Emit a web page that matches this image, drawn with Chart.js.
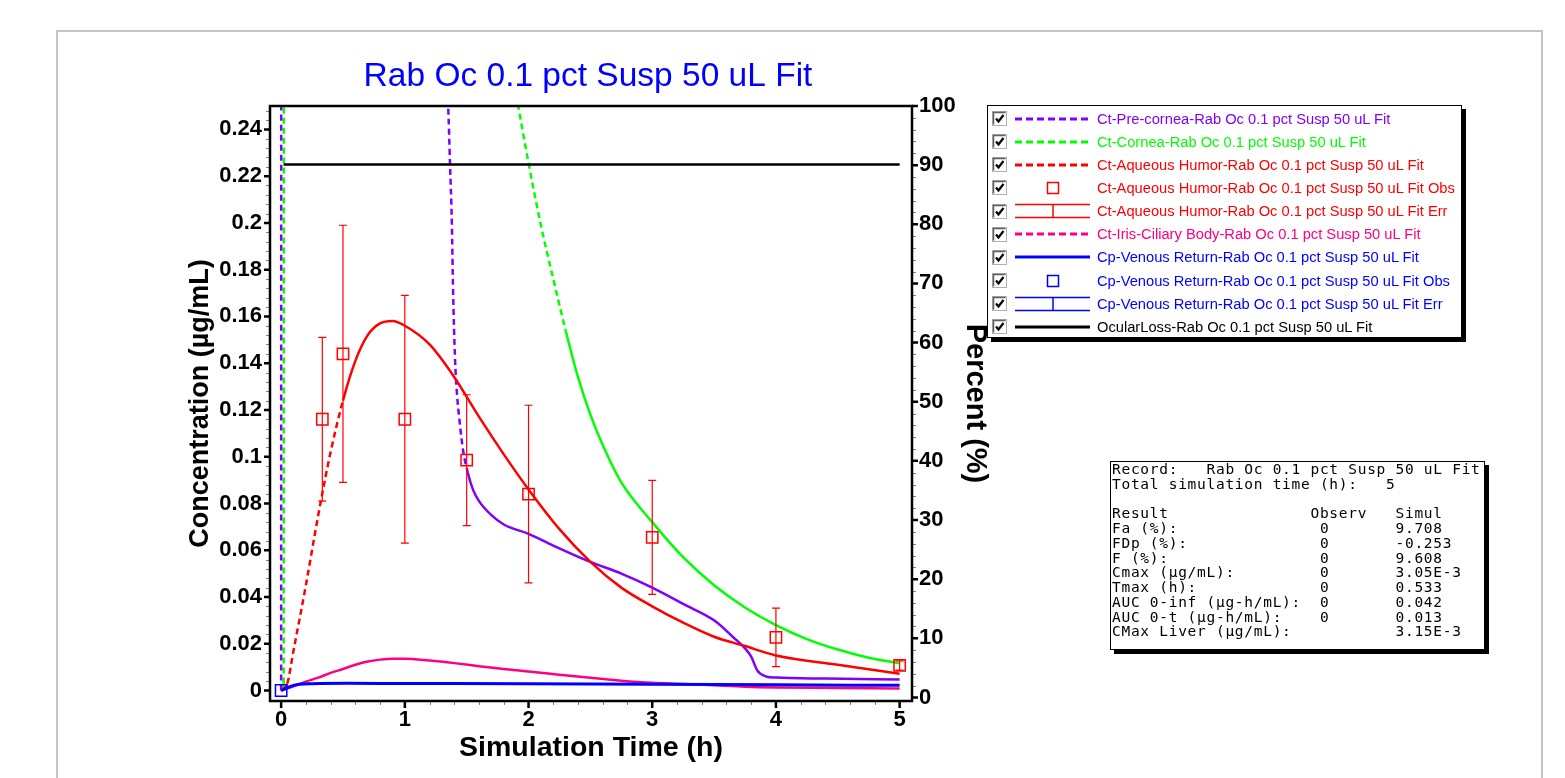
<!DOCTYPE html>
<html>
<head>
<meta charset="utf-8">
<title>Rab Oc 0.1 pct Susp 50 uL Fit</title>
<script src="https://cdn.jsdelivr.net/npm/chart.js@4.4.1/dist/chart.umd.min.js"></script>
<style>
    html, body { margin: 0; padding: 0; background: #fff; }
    #cadre {
        position: absolute; left: 56px; top: 30px; width: 1487px; height: 780px;
        border: 2px solid #c4c4c4; box-sizing: border-box;
    }
    #graphique { position: absolute; left: 0; top: 0; }
    #legende {
        position: absolute; left: 987px; top: 105px; width: 475px; height: 233px;
        border: 1px solid #000; background: #fff; box-shadow: 4px 4px 0 #000;
        box-sizing: border-box; padding-top: 1px;
        font: 14.7px "Liberation Sans", Arial, sans-serif;
    }
    .ligne { height: 23.15px; display: flex; align-items: center; white-space: nowrap; }
    .case { margin-left: 4px; flex: none; }
    .echantillon { margin-left: 8px; flex: none; }
    .texte { margin-left: 7px; }
    #resultats {
        position: absolute; left: 1110px; top: 461px; width: 375px; height: 189px;
        border: 1px solid #000; background: #fff; box-shadow: 4px 4px 0 #000;
        box-sizing: border-box; margin: 0; padding: 0 0 0 1px; overflow: hidden;
        font: 14.5px "DejaVu Sans Mono", monospace; letter-spacing: 0.72px;
        line-height: 14.75px; white-space: pre; color: #000;
    }
</style>
</head>
<body>
<div id="cadre"></div>
<canvas id="graphique" width="1565" height="778"></canvas>
<div id="legende"></div>
<pre id="resultats"></pre>
<script>
const titre = 'Rab Oc 0.1 pct Susp 50 uL Fit';

const xTicks    = [0, 1, 2, 3, 4, 5];
const concTicks = [0, 0.02, 0.04, 0.06, 0.08, 0.1, 0.12, 0.14, 0.16, 0.18, 0.2, 0.22, 0.24];
const pctTicks  = [0, 10, 20, 30, 40, 50, 60, 70, 80, 90, 100];

// Ct-Pre-cornea (ug/mL)
const preCorneaT = [0, 0.008, 0.5, 1.0, 1.3, 1.35, 1.365, 1.38, 1.39, 1.405, 1.42, 1.445, 1.47, 1.51, 1.55, 1.6, 1.7, 1.8, 2.0, 2.2, 2.5, 2.75, 3.0, 3.25, 3.5, 3.65, 3.75, 3.8, 3.85, 3.92, 4.0, 4.4, 5.0];
const preCorneaC = [0, 3.0, 1.2, 0.45, 0.28, 0.25, 0.2256, 0.2, 0.171, 0.143, 0.128, 0.114, 0.103, 0.093, 0.086, 0.081, 0.075, 0.071, 0.067, 0.062, 0.055, 0.05, 0.044, 0.037, 0.03, 0.023, 0.018, 0.0145, 0.0085, 0.006, 0.0055, 0.0051, 0.0047];

// Ct-Cornea
const corneaT = [0, 0.02, 0.025, 0.5, 1.0, 1.5, 1.9, 2.0, 2.1, 2.2, 2.3, 2.4, 2.5, 2.6, 2.75, 3.0, 3.25, 3.5, 3.75, 4.0, 4.25, 4.5, 4.75, 5.0];
const corneaC = [0, 0.003, 1.6, 0.95, 0.6, 0.38, 0.255, 0.2256, 0.199, 0.176, 0.154, 0.134, 0.118, 0.105, 0.089, 0.072, 0.057, 0.045, 0.0355, 0.028, 0.022, 0.0175, 0.014, 0.0116];

// Ct-Aqueous Humor
const aqueousT = [0, 0.05, 0.1, 0.2, 0.3, 0.4, 0.5, 0.6, 0.7, 0.8, 0.9, 1.0, 1.2, 1.4, 1.6, 1.8, 2.0, 2.25, 2.5, 2.75, 3.0, 3.25, 3.5, 3.75, 4.0, 4.5, 5.0];
const aqueousC = [0, 0.003, 0.017, 0.045, 0.075, 0.102, 0.124, 0.141, 0.152, 0.157, 0.158, 0.156, 0.148, 0.134, 0.117, 0.101, 0.086, 0.069, 0.055, 0.044, 0.036, 0.029, 0.023, 0.019, 0.015, 0.011, 0.0072];

// Ct-Aqueous Humor observe +/- erreur
const aqObsT   = [0.333, 0.5, 1, 1.5, 2, 3, 4, 5];
const aqObsC   = [0.116, 0.144, 0.116, 0.0985, 0.084, 0.0655, 0.0227, 0.0107];
const aqObsErr = [0.035, 0.055, 0.053, 0.028, 0.038, 0.0244, 0.0125, 0.002];

// Ct-Iris-Ciliary Body
const irisT = [0, 0.1, 0.2, 0.3, 0.4, 0.5, 0.6, 0.7, 0.8, 0.9, 1.0, 1.2, 1.4, 1.6, 1.8, 2.0, 2.25, 2.5, 2.75, 3.0, 3.25, 3.5, 3.75, 4.0, 4.5, 5.0];
const irisC = [0, 0.0018, 0.0038, 0.0055, 0.0075, 0.0092, 0.011, 0.0124, 0.0132, 0.0136, 0.0136, 0.0128, 0.0117, 0.0104, 0.0092, 0.0081, 0.0067, 0.0054, 0.0042, 0.0033, 0.0028, 0.0022, 0.0016, 0.0013, 0.0011, 0.0009];

// Cp-Venous Return
const venousT = [0, 0.05, 0.1, 0.15, 0.25, 0.533, 1.0, 2.0, 3.0, 4.0, 5.0];
const venousC = [0, 0.0012, 0.0022, 0.0027, 0.0029, 0.00305, 0.003, 0.0029, 0.0027, 0.0024, 0.0022];
const venObsT = [0];
const venObsC = [0];

// OcularLoss (%)
const ocularT   = [0.02, 1, 2, 3, 4, 5];
const ocularPct = [90.1, 90.1, 90.1, 90.1, 90.1, 90.1];

const resultats = [
    'Record:   Rab Oc 0.1 pct Susp 50 uL Fit',
    'Total simulation time (h):   5',
    '',
    'Result               Observ   Simul',
    'Fa (%):               0       9.708',
    'FDp (%):              0       -0.253',
    'F (%):                0       9.608',
    'Cmax (\u00b5g/mL):         0       3.05E-3',
    'Tmax (h):             0       0.533',
    'AUC 0-inf (\u00b5g-h/mL):  0       0.042',
    'AUC 0-t (\u00b5g-h/mL):    0       0.013',
    'CMax Liver (\u00b5g/mL):           3.15E-3'
];

const COL = {
    violet: '#8000ff', vert: '#00ff00', rouge: '#ff0000',
    rose: '#ff0080', bleu: '#0000ff', noir: '#000000'
};

const legendItems = [
    { label: 'Ct-Pre-cornea-Rab Oc 0.1 pct Susp 50 uL Fit',            color: COL.violet, kind: 'dash' },
    { label: 'Ct-Cornea-Rab Oc 0.1 pct Susp 50 uL Fit',                color: COL.vert,   kind: 'dash' },
    { label: 'Ct-Aqueous Humor-Rab Oc 0.1 pct Susp 50 uL Fit',         color: COL.rouge,  kind: 'dash' },
    { label: 'Ct-Aqueous Humor-Rab Oc 0.1 pct Susp 50 uL Fit Obs',     color: COL.rouge,  kind: 'obs' },
    { label: 'Ct-Aqueous Humor-Rab Oc 0.1 pct Susp 50 uL Fit Err',     color: COL.rouge,  kind: 'err' },
    { label: 'Ct-Iris-Ciliary Body-Rab Oc 0.1 pct Susp 50 uL Fit',     color: COL.rose,   kind: 'dash' },
    { label: 'Cp-Venous Return-Rab Oc 0.1 pct Susp 50 uL Fit',         color: COL.bleu,   kind: 'line' },
    { label: 'Cp-Venous Return-Rab Oc 0.1 pct Susp 50 uL Fit Obs',     color: COL.bleu,   kind: 'obs' },
    { label: 'Cp-Venous Return-Rab Oc 0.1 pct Susp 50 uL Fit Err',     color: COL.bleu,   kind: 'err' },
    { label: 'OcularLoss-Rab Oc 0.1 pct Susp 50 uL Fit',               color: COL.noir,   kind: 'line' }
];

const POLICE = '"Liberation Sans", Arial, sans-serif';

// ── Helpers ───────────────────────────────────────────────
function points(t, v) {
    return t.map((x, i) => ({ x: x, y: v[i] }));
}

// tirets seulement la ou le segment est raide (comme le logiciel d origine)
const tiretSiRaide = c =>
    Math.abs(c.p1.y - c.p0.y) > 4 * Math.abs(c.p1.x - c.p0.x) ? [6, 4] : undefined;

function courbe(item, t, v, extra) {
    return Object.assign({
        label: item.label,
        data: points(t, v),
        borderColor: item.color,
        backgroundColor: item.color,
        borderWidth: 2.5,
        pointRadius: 0,
        cubicInterpolationMode: 'monotone',
        yAxisID: 'y',
    }, extra);
}

function observes(item, t, v, ordre) {
    return {
        label: item.label,
        data: points(t, v),
        showLine: false,
        pointStyle: 'rect',
        pointRadius: 8,
        pointBorderWidth: 1.5,
        pointBorderColor: item.color,
        pointBackgroundColor: 'rgba(0,0,0,0)',
        yAxisID: 'y',
        order: ordre,
    };
}

// ── Plugins ───────────────────────────────────────────────
const barresErreur = {
    id: 'barresErreur',
    afterDatasetsDraw(chart) {
        const { ctx, chartArea: a, scales: { x, y } } = chart;
        ctx.save();
        ctx.beginPath();
        ctx.rect(a.left, a.top, a.width, a.height);
        ctx.clip();
        ctx.strokeStyle = COL.rouge;
        ctx.lineWidth = 1.2;
        aqObsT.forEach((t, i) => {
            const px = x.getPixelForValue(t);
            const hi = y.getPixelForValue(aqObsC[i] + aqObsErr[i]);
            const lo = y.getPixelForValue(aqObsC[i] - aqObsErr[i]);
            ctx.beginPath();
            ctx.moveTo(px, hi); ctx.lineTo(px, lo);
            ctx.moveTo(px - 4, hi); ctx.lineTo(px + 4, hi);
            ctx.moveTo(px - 4, lo); ctx.lineTo(px + 4, lo);
            ctx.stroke();
        });
        ctx.restore();
    }
};

const cadreEtGraduations = {
    id: 'cadreEtGraduations',
    afterDraw(chart) {
        const { ctx, chartArea: a, scales } = chart;
        const sx = scales.x, sy = scales.y, sy2 = scales.y2;
        ctx.save();

        // graduations mineures
        ctx.strokeStyle = '#808080';
        ctx.lineWidth = 1;
        ctx.beginPath();
        for (let i = 1; i < 25; i++) {
            if (i % 5 === 0) continue;
            const px = Math.round(sx.getPixelForValue(i * 0.2)) + 0.5;
            ctx.moveTo(px, a.bottom); ctx.lineTo(px, a.bottom + 4);
        }
        for (let i = 1; i < 63; i++) {
            if (i % 5 === 0) continue;
            const py = Math.round(sy.getPixelForValue(i * 0.004)) + 0.5;
            ctx.moveTo(a.left - 4, py); ctx.lineTo(a.left, py);
        }
        for (let i = 1; i < 50; i++) {
            if (i % 5 === 0) continue;
            const py = Math.round(sy2.getPixelForValue(i * 2)) + 0.5;
            ctx.moveTo(a.right, py); ctx.lineTo(a.right + 4, py);
        }
        ctx.stroke();

        // graduations majeures
        ctx.strokeStyle = '#000';
        ctx.lineWidth = 2.5;
        ctx.beginPath();
        xTicks.forEach(v => {
            const px = sx.getPixelForValue(v);
            ctx.moveTo(px, a.bottom); ctx.lineTo(px, a.bottom + 7);
        });
        concTicks.forEach(v => {
            const py = sy.getPixelForValue(v);
            ctx.moveTo(a.left - 6, py); ctx.lineTo(a.left, py);
        });
        pctTicks.forEach(v => {
            const py = sy2.getPixelForValue(v);
            ctx.moveTo(a.right, py); ctx.lineTo(a.right + 6, py);
        });
        ctx.stroke();

        // cadre du trace
        ctx.lineWidth = 2.5;
        ctx.strokeRect(a.left, a.top, a.width, a.height);
        ctx.restore();
    }
};

// ── Graphique ─────────────────────────────────────────────
const L = legendItems;
const jeux = [
    courbe(L[0], preCorneaT, preCorneaC, { segment: { borderDash: tiretSiRaide }, order: 6 }),
    courbe(L[1], corneaT, corneaC,       { segment: { borderDash: tiretSiRaide }, order: 7 }),
    courbe(L[2], aqueousT, aqueousC,     { segment: { borderDash: tiretSiRaide }, order: 3 }),
    observes(L[3], aqObsT, aqObsC, 0),
    courbe(L[5], irisT, irisC,           { segment: { borderDash: tiretSiRaide }, order: 5 }),
    courbe(L[6], venousT, venousC,       { borderWidth: 3, order: 2 }),
    observes(L[7], venObsT, venObsC, 1),
    courbe(L[9], ocularT, ocularPct,     { yAxisID: 'y2', cubicInterpolationMode: 'default', tension: 0, order: 4 }),
];

const policeTicks = { family: POLICE, size: 22, weight: 'bold' };

new Chart(document.getElementById('graphique').getContext('2d'), {
    type: 'line',
    data: { datasets: jeux },
    options: {
        responsive: false,
        animation: false,
        events: [],
        layout: { padding: { left: 184, right: 573, top: 0, bottom: 13 } },
        plugins: {
            legend: { display: false },
            tooltip: { enabled: false },
            title: {
                display: true,
                text: titre,
                color: '#0000ff',
                font: { family: POLICE, size: 33.5, weight: 'normal' },
                padding: { top: 56.9, bottom: 8.9 },
            },
        },
        scales: {
            x: {
                type: 'linear',
                min: -0.09, max: 5.1,
                afterBuildTicks: s => { s.ticks = xTicks.map(v => ({ value: v })); },
                afterFit: s => { s.height = 64; },
                grid: { display: false, drawTicks: false },
                border: { display: false },
                ticks: { font: policeTicks, color: '#000', padding: 6, autoSkip: false, maxRotation: 0 },
                title: { display: true, text: 'Simulation Time (h)', color: '#000',
                         font: { family: POLICE, size: 28.5, weight: 'bold' }, padding: 0 },
            },
            y: {
                position: 'left',
                min: -0.0045, max: 0.25,
                afterBuildTicks: s => { s.ticks = concTicks.map(v => ({ value: v })); },
                afterFit: s => { s.width = 86; },
                grid: { display: false, drawTicks: false },
                border: { display: false },
                ticks: { font: policeTicks, color: '#000', padding: 8, autoSkip: false,
                         callback: v => String(+v.toFixed(3)) },
                title: { display: true, text: 'Concentration (\u00b5g/mL)', color: '#000',
                         font: { family: POLICE, size: 27, weight: 'bold' }, padding: 0 },
            },
            y2: {
                position: 'right',
                min: -0.6, max: 100,
                afterBuildTicks: s => { s.ticks = pctTicks.map(v => ({ value: v })); },
                afterFit: s => { s.width = 80; },
                grid: { display: false, drawTicks: false },
                border: { display: false },
                ticks: { font: policeTicks, color: '#000', padding: 7, autoSkip: false },
                title: { display: true, text: 'Percent (%)', color: '#000',
                         font: { family: POLICE, size: 29, weight: 'bold' }, padding: 0 },
            },
        },
    },
    plugins: [barresErreur, cadreEtGraduations],
});

// ── Legende HTML ──────────────────────────────────────────
function echantillon(item) {
    const c = item.color;
    let dessin;
    if (item.kind === 'dash') {
        dessin = `<line x1="0" y1="10" x2="75" y2="10" stroke="${c}" stroke-width="3" stroke-dasharray="7 4"/>`;
    } else if (item.kind === 'line') {
        dessin = `<line x1="0" y1="10" x2="75" y2="10" stroke="${c}" stroke-width="3"/>`;
    } else if (item.kind === 'obs') {
        dessin = `<rect x="32.5" y="4.5" width="11" height="11" fill="none" stroke="${c}" stroke-width="1.5"/>`;
    } else {
        dessin = `<path d="M0 3.5H75M0 16.5H75M38 3.5V16.5" fill="none" stroke="${c}" stroke-width="1.5"/>`;
    }
    return `<svg class="echantillon" width="75" height="20">${dessin}</svg>`;
}

const caseCochee =
    '<svg class="case" width="15" height="15">' +
    '<rect x="0.5" y="0.5" width="14" height="14" fill="#fff" stroke="#b0b0b0"/>' +
    '<path d="M1.5 13.5V1.5H13.5" fill="none" stroke="#606060" stroke-width="1.5"/>' +
    '<polyline points="4,7.5 6.5,10.5 11.5,4" fill="none" stroke="#000" stroke-width="2.2"/>' +
    '</svg>';

document.getElementById('legende').innerHTML = legendItems.map(item =>
    `<div class="ligne">${caseCochee}${echantillon(item)}<span class="texte" style="color:${item.color}">${item.label}</span></div>`
).join('');

document.getElementById('resultats').textContent = resultats.join('\n');
</script>
</body>
</html>
